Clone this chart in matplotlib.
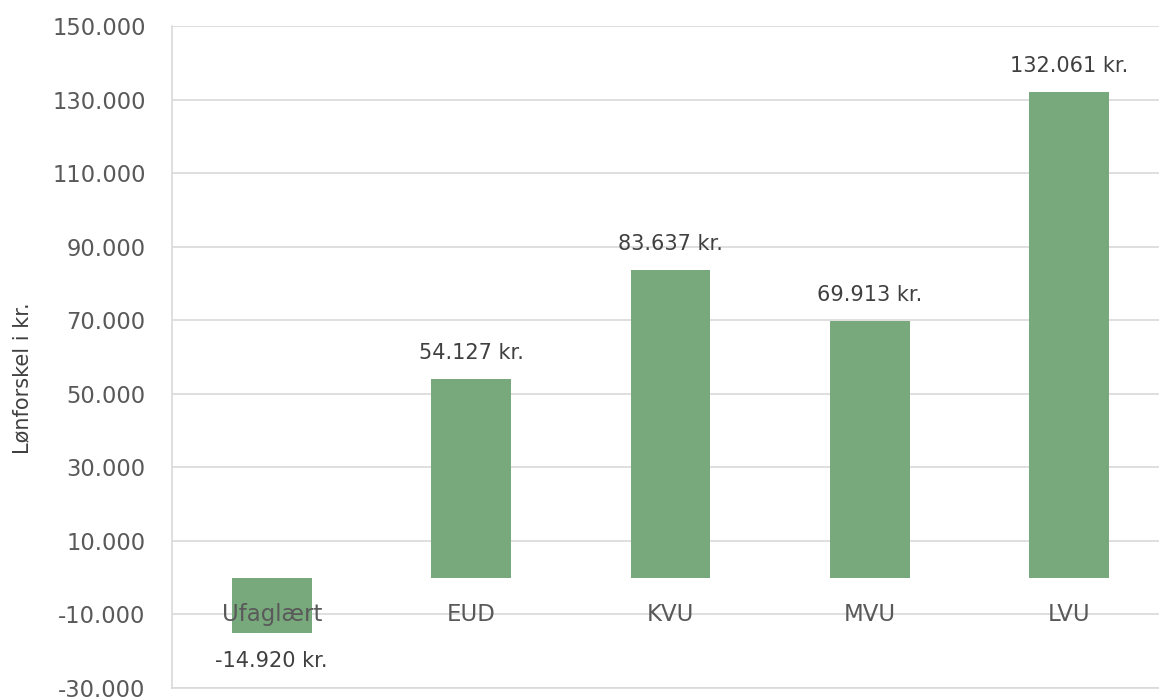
import matplotlib.pyplot as plt
import matplotlib.ticker as mticker

categories = ['Ufaglært', 'EUD', 'KVU', 'MVU', 'LVU']
values = [-14920, 54127, 83637, 69913, 132061]
yticks = list(range(-30000, 150001, 20000))


def dk(v):
    return f'{v:,.0f}'.replace(',', '.')


fig = plt.figure(figsize=(11.59, 6.99), dpi=100)
# plot area runs a little past the right edge of the picture
ax = fig.add_axes([172 / 1159, 11 / 699, 997 / 1159, 662 / 699])

x = list(range(len(categories)))
ax.bar(x, values, width=0.4, color='#78A97C', zorder=2)

ax.set_xlim(-0.5, len(categories) - 0.5)
ax.set_ylim(-30000, 150000)
ax.set_yticks(yticks)
ax.yaxis.set_major_formatter(mticker.FuncFormatter(lambda v, p: dk(v)))
ax.tick_params(axis='y', length=0, pad=19, labelsize=16.3, labelcolor='#595959')
ax.set_xticks([])
ax.grid(axis='y', color='#D9D9D9', linewidth=1.2, zorder=0)

for s in ['top', 'right']:
    ax.spines[s].set_visible(False)
for s in ['left', 'bottom']:
    ax.spines[s].set_color('#D9D9D9')
    ax.spines[s].set_linewidth(1.2)

# category names sit just below the zero line
for xi, c in zip(x, categories):
    ax.annotate(c, (xi, 0), xytext=(0, -37), textcoords='offset pixels',
                ha='center', va='center', fontsize=16.5, color='#595959', zorder=3)

for xi, v in zip(x, values):
    off = 26 if v >= 0 else -28
    ax.annotate(dk(v) + ' kr.', (xi, v), xytext=(0, off), textcoords='offset pixels',
                ha='center', va='center', fontsize=15, color='#404040')

fig.text(22 / 1159, 1 - 378 / 699, 'Lønforskel i kr.', rotation=90,
         ha='center', va='center', fontsize=15, color='#404040')

fig.savefig('out.png', dpi=100)
